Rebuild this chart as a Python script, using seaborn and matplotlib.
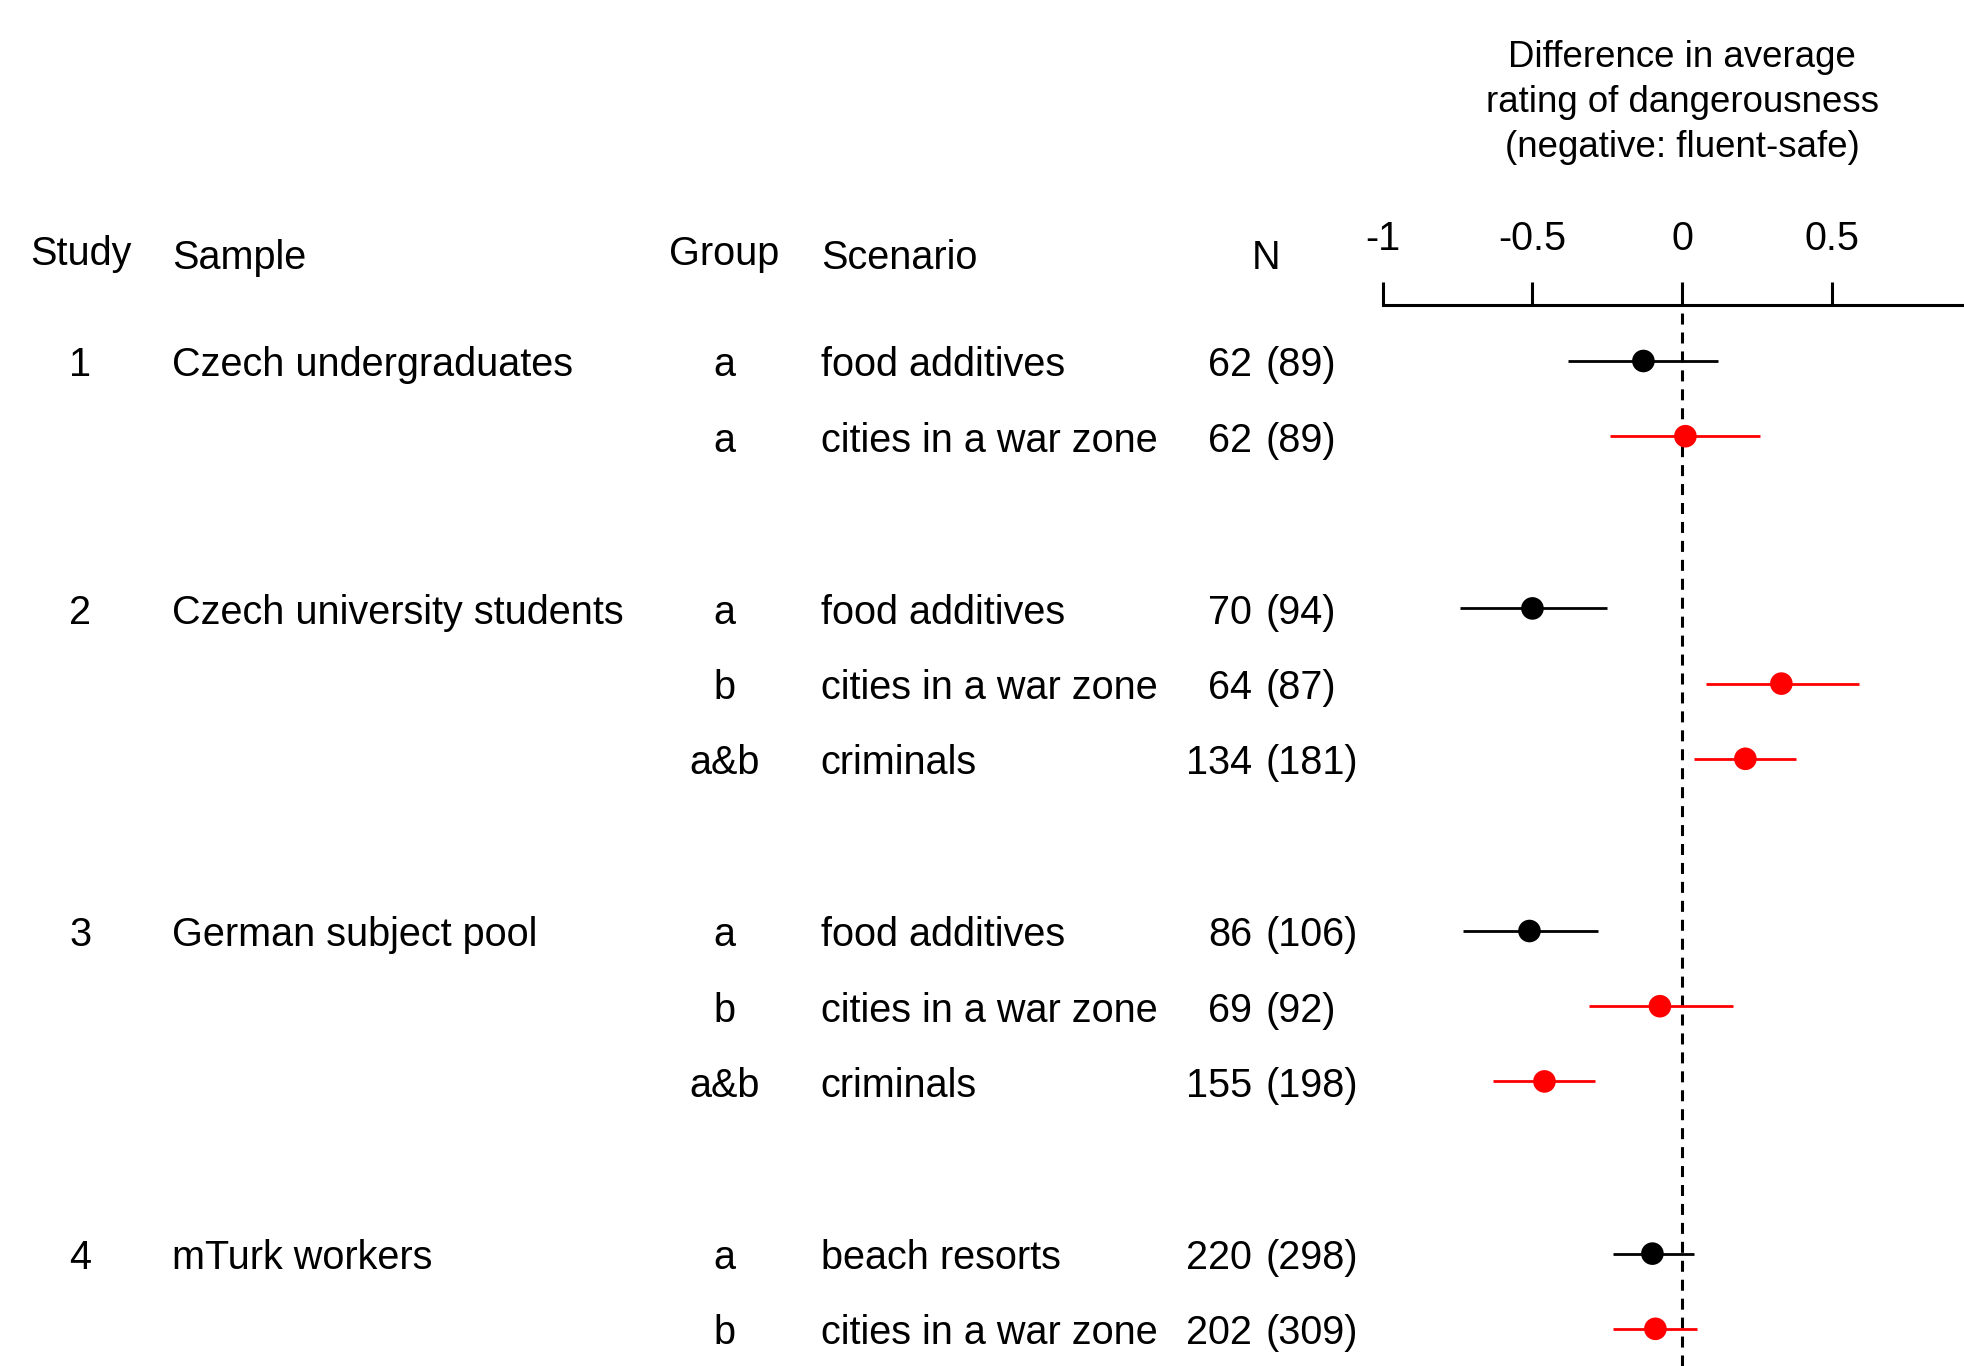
import matplotlib
matplotlib.use("Agg")
import matplotlib.pyplot as plt
import matplotlib.transforms as mtransforms
import numpy as np
import pandas as pd
import seaborn as sns

# ---- data -------------------------------------------------------------
study_labels = ["1", "2", "3", "4"]
sample_labels = ["Czech undergraduates", "Czech university students",
                 "German subject pool", "mTurk workers"]
row_study = [0, 0, 1, 1, 1, 2, 2, 2, 3, 3]
groups = ["a", "a", "a", "b", "a&b", "a", "b", "a&b", "a", "b"]
scenarios = ["food additives", "cities in a war zone",
             "food additives", "cities in a war zone", "criminals",
             "food additives", "cities in a war zone", "criminals",
             "beach resorts", "cities in a war zone"]
n_used = [62, 62, 70, 64, 134, 86, 69, 155, 220, 202]
n_total = [89, 89, 94, 87, 181, 106, 92, 198, 298, 309]
estimate = [-0.13, 0.01, -0.50, 0.33, 0.21, -0.51, -0.075, -0.46, -0.10, -0.09]
ci_low = [-0.38, -0.24, -0.74, 0.08, 0.04, -0.73, -0.31, -0.63, -0.23, -0.23]
ci_high = [0.12, 0.26, -0.25, 0.59, 0.38, -0.28, 0.17, -0.29, 0.04, 0.05]
scenario_set = ["neutral", "danger", "neutral", "danger", "danger",
                "neutral", "danger", "danger", "neutral", "danger"]
tick_values = [-1, -0.5, 0, 0.5]
tick_labels = ["-1", "-0.5", "0", "0.5"]
axis_title = "Difference in average\nrating of dangerousness\n(negative: fluent-safe)"

# ---- layout -------------------------------------------------------------
W, H, DPI = 1965, 1366, 100
FS = 28.5
FS_TITLE = 26.4
LW = 2.2
study_gap = 1.29
ypos = [i + study_gap * s for i, s in enumerate(row_study)]

df = pd.DataFrame({"y": ypos, "est": estimate, "lo": ci_low, "hi": ci_high,
                   "set": scenario_set})

sns.set_theme(style="white")
plt.rcParams["font.family"] = ["Liberation Sans", "DejaVu Sans"]
plt.rcParams["font.size"] = FS

fig = plt.figure(figsize=(W / DPI, H / DPI), dpi=DPI)

ax_left_px, ax_top_px = 1382.5, 305.0
unit_px = 299.9
row_px = 75.2
first_row_px = 361.0
ax = fig.add_axes([ax_left_px / W, 0, 1 - ax_left_px / W, 1 - ax_top_px / H])
ax.set_xlim(-1, -1 + (W - ax_left_px) / unit_px)
ax.set_ylim((H - first_row_px) / row_px, -(first_row_px - ax_top_px) / row_px)

palette = {"neutral": "#000000", "danger": "#ff0000"}

# confidence intervals
for _, r in df.iterrows():
    ax.plot([r["lo"], r["hi"]], [r["y"], r["y"]], color=palette[r["set"]],
            lw=2.0, solid_capstyle="butt", zorder=2)

# reference line at zero
ax.axvline(0, color="black", lw=LW, ls=(0, (3.6, 2.6)), zorder=1)

# point estimates
sns.scatterplot(data=df, x="est", y="y", hue="set", palette=palette,
                s=265, linewidth=0, legend=False, ax=ax, zorder=3)

# top axis
ax.set_xlabel("")
ax.set_ylabel("")
for side in ["left", "right", "bottom"]:
    ax.spines[side].set_visible(False)
ax.spines["top"].set_visible(True)
ax.spines["top"].set_color("black")
ax.spines["top"].set_linewidth(LW)
ax.xaxis.tick_top()
ax.set_xticks(tick_values)
ax.set_xticklabels(tick_labels)
ax.tick_params(axis="x", top=True, bottom=False, labeltop=True,
               labelbottom=False, direction="out", length=16.5, width=LW,
               color="black", pad=17, labelsize=FS, labelcolor="black")
ax.set_yticks([])
ax.grid(False)
ax.patch.set_alpha(0)

# text columns
tr = mtransforms.blended_transform_factory(fig.transFigure, ax.transData)
x_study = 80.5 / W
x_sample = 171.7 / W
x_group = 724.3 / W
x_scen = 820.8 / W
x_n_right = 1252.0 / W
x_n_paren = 1266.0 / W
x_n_head = 1266.0 / W
dy = 4.4 / row_px

kw = dict(transform=tr, fontsize=FS, color="black", clip_on=False)
y_head_a = (254.0 - first_row_px) / row_px
y_head_b = (258.0 - first_row_px) / row_px
ax.text(x_study, y_head_a, "Study", ha="center", va="center", **kw)
ax.text(x_sample, y_head_b, "Sample", ha="left", va="center", **kw)
ax.text(x_group, y_head_a, "Group", ha="center", va="center", **kw)
ax.text(x_scen, y_head_b, "Scenario", ha="left", va="center", **kw)
ax.text(x_n_head, y_head_b, "N", ha="center", va="center", **kw)

shown = set()
for i, y in enumerate(ypos):
    s = row_study[i]
    yt = y + dy
    if s not in shown:
        shown.add(s)
        ax.text(x_study, yt, study_labels[s], ha="center", va="center", **kw)
        ax.text(x_sample, yt, sample_labels[s], ha="left", va="center", **kw)
    ax.text(x_group, yt, groups[i], ha="center", va="center", **kw)
    ax.text(x_scen, yt, scenarios[i], ha="left", va="center", **kw)
    ax.text(x_n_right, yt, str(n_used[i]), ha="right", va="center", **kw)
    ax.text(x_n_paren, yt, f"({n_total[i]})", ha="left", va="center", **kw)

# axis title above the ticks, centred on zero
x0_fig = (ax_left_px + unit_px) / W
fig.text(x0_fig, 1 - 102.5 / H, axis_title, ha="center", va="center",
         fontsize=FS_TITLE, linespacing=1.38, color="black")

fig.savefig("out.png", dpi=DPI, facecolor="white")
